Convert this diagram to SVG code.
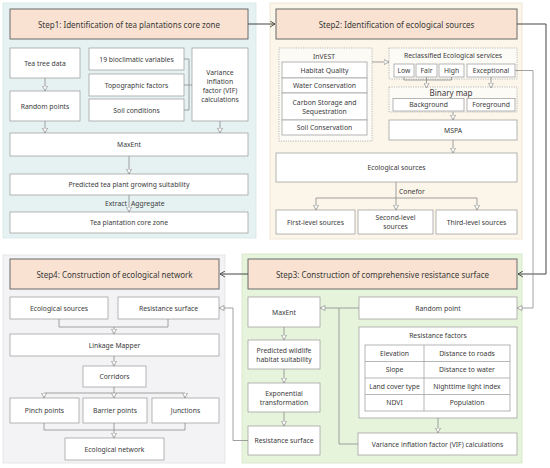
<svg xmlns="http://www.w3.org/2000/svg" width="550" height="468" viewBox="0 0 550 468">
<defs>
<style>
text{font-family:"Noto Sans","DejaVu Sans",sans-serif;fill:#3a3a3a;text-anchor:middle;dominant-baseline:central}
.h{font-size:8px}
.t{font-size:6.8px}
.box{fill:#fff;stroke:#a3a3a3;stroke-width:0.8}
.hd{fill:#f9e2d1;stroke:#6a6a6a;stroke-width:1}
.dot{fill:#fff;fill-opacity:0.6;stroke:#aaa;stroke-width:0.8;stroke-dasharray:1.2,1.2}
.c{fill:none;stroke:#8a8a8a;stroke-width:0.8}
.ca{fill:none;stroke:#8a8a8a;stroke-width:0.8;marker-end:url(#tri)}
.s{fill:none;stroke:#444;stroke-width:1;marker-end:url(#chev)}
</style>
<marker id="tri" markerUnits="userSpaceOnUse" markerWidth="6" markerHeight="6" refX="5" refY="2.5" orient="auto" viewBox="-0.5 -0.5 6 6"><path d="M0,0 L5,2.5 L0,5 z" fill="#fff" stroke="#8a8a8a" stroke-width="0.7"/></marker>
<marker id="chev" markerUnits="userSpaceOnUse" markerWidth="7" markerHeight="7" refX="5" refY="3" orient="auto" viewBox="-0.5 -0.5 7 7"><path d="M0,0 L5,3 L0,6" fill="none" stroke="#444" stroke-width="0.9"/></marker>
</defs>
<rect width="550" height="468" fill="#fff"/>
<!-- panels -->
<rect id="panel1" x="3" y="3" width="253" height="235" fill="#e6f2f2" stroke="#d6e6e6" stroke-width="0.8"/>
<rect id="panel2" x="270" y="3" width="252" height="236" fill="#fbf6e9" stroke="#ede4cf" stroke-width="0.8"/>
<rect id="panel3" x="242" y="254" width="280" height="209" fill="#e7f4dc" stroke="#d4e7c6" stroke-width="0.8"/>
<rect id="panel4" x="3" y="255" width="222" height="208" fill="#f3f3f5" stroke="#e1e1e4" stroke-width="0.8"/>

<!-- headers -->
<g id="step1"><rect class="hd" x="10" y="9" width="238" height="30"/><text class="h" x="129" y="24">Step1: Identification of tea plantations core zone</text></g>
<g id="step2"><rect class="hd" x="276" y="9" width="241" height="30"/><text class="h" x="396.5" y="24">Step2: Identification of ecological sources</text></g>
<g id="step3"><rect class="hd" x="248" y="259" width="269" height="30"/><text class="h" x="382.5" y="274">Step3: Construction of comprehensive resistance surface</text></g>
<g id="step4"><rect class="hd" x="10" y="259" width="209" height="30"/><text class="h" x="114.5" y="274">Step4: Construction of ecological network</text></g>

<!-- panel 1 nodes -->
<g id="teatree"><rect class="box" x="10" y="48" width="70" height="30"/><text class="t" x="45" y="63">Tea tree data</text></g>
<g id="randompoints"><rect class="box" x="10" y="91" width="70" height="30"/><text class="t" x="45" y="106">Random points</text></g>
<g id="bio"><rect class="box" x="89" y="48" width="95" height="22"/><text class="t" x="136.5" y="59">19 bioclimatic variables</text></g>
<g id="topo"><rect class="box" x="89" y="74" width="95" height="22"/><text class="t" x="136.5" y="85">Topographic factors</text></g>
<g id="soil"><rect class="box" x="89" y="99" width="95" height="22"/><text class="t" x="136.5" y="110">Soil conditions</text></g>
<g id="vif1"><rect class="box" x="192" y="48" width="56" height="73"/><text class="t" x="220" y="72">Variance</text><text class="t" x="220" y="81">inflation</text><text class="t" x="220" y="90">factor (VIF)</text><text class="t" x="220" y="99">calculations</text></g>
<g id="maxent1"><rect class="box" x="10" y="133" width="238" height="23"/><text class="t" x="129" y="144.5">MaxEnt</text></g>
<g id="predtea"><rect class="box" x="10" y="174" width="238" height="21"/><text class="t" x="129" y="184.5">Predicted tea plant growing suitability</text></g>
<g id="corezone"><rect class="box" x="10" y="212" width="238" height="21"/><text class="t" x="129" y="222.5">Tea plantation core zone</text></g>

<!-- panel 2 nodes -->
<g id="invest"><rect class="dot" x="279" y="48" width="93" height="93"/><text class="t" x="324" y="56">InVEST</text>
<rect class="box" x="282" y="62" width="85" height="16"/><text class="t" x="324.5" y="70">Habitat Quality</text>
<rect class="box" x="282" y="78" width="85" height="15"/><text class="t" x="324.5" y="85.5">Water Conservation</text>
<rect class="box" x="282" y="93" width="85" height="27"/><text class="t" x="324.5" y="102.5">Carbon Storage and</text><text class="t" x="324.5" y="111">Sequestration</text>
<rect class="box" x="282" y="120" width="85" height="15"/><text class="t" x="324.5" y="127.5">Soil Conservation</text></g>
<g id="reclass"><rect class="dot" x="389" y="48" width="128" height="31"/><text class="t" x="453" y="55">Reclassified Ecological services</text>
<rect class="box" x="394" y="64" width="20" height="13"/><text class="t" x="404" y="70.5">Low</text>
<rect class="box" x="416" y="64" width="21" height="13"/><text class="t" x="426.5" y="70.5">Fair</text>
<rect class="box" x="439" y="64" width="25" height="13"/><text class="t" x="451.5" y="70.5">High</text>
<rect class="box" x="467" y="64" width="48" height="13"/><text class="t" x="491" y="70.5">Exceptional</text></g>
<g id="binary"><rect class="dot" x="389" y="87" width="128" height="25"/><text class="t" x="451" y="92.5" style="font-size:8px">Binary map</text>
<rect class="box" x="393" y="98.5" width="71" height="12.5"/><text class="t" x="428.5" y="104.75">Background</text>
<rect class="box" x="467" y="98.5" width="48" height="12.5"/><text class="t" x="491" y="104.75">Foreground</text></g>
<g id="mspa"><rect class="box" x="389" y="120" width="128" height="20"/><text class="t" x="453" y="130">MSPA</text></g>
<g id="ecosrc2"><rect class="box" x="276" y="153" width="241" height="29"/><text class="t" x="396.5" y="167.5">Ecological sources</text></g>
<g id="first"><rect class="box" x="276" y="210" width="79" height="24"/><text class="t" x="315.5" y="222">First-level sources</text></g>
<g id="second"><rect class="box" x="358" y="210" width="75" height="24"/><text class="t" x="395.5" y="217.5">Second-level</text><text class="t" x="395.5" y="226.5">sources</text></g>
<g id="third"><rect class="box" x="436" y="210" width="81" height="24"/><text class="t" x="476.5" y="222">Third-level sources</text></g>

<!-- panel 3 nodes -->
<g id="maxent3"><rect class="box" x="248" y="297" width="72" height="30"/><text class="t" x="284" y="312">MaxEnt</text></g>
<g id="predwild"><rect class="box" x="248" y="340" width="72" height="29"/><text class="t" x="284" y="350">Predicted wildlife</text><text class="t" x="284" y="359">habitat suitability</text></g>
<g id="expo"><rect class="box" x="248" y="383" width="72" height="29"/><text class="t" x="284" y="393">Exponential</text><text class="t" x="284" y="402">transformation</text></g>
<g id="ressurf3"><rect class="box" x="248" y="426" width="72" height="29"/><text class="t" x="284" y="440.5">Resistance surface</text></g>
<g id="randompoint"><rect class="box" x="359" y="297" width="158" height="22"/><text class="t" x="438" y="308">Random point</text></g>
<g id="resfactors"><rect class="box" x="359" y="327" width="158" height="91"/><text class="t" x="438" y="335.5">Resistance factors</text>
<rect class="box" x="365" y="345" width="145" height="66"/>
<path d="M365,361.5H510M365,378H510M365,394.5H510M424,345V411" stroke="#a3a3a3" stroke-width="0.8" fill="none"/>
<text class="t" x="394.5" y="353.25">Elevation</text><text class="t" x="467" y="353.25">Distance to roads</text>
<text class="t" x="394.5" y="369.75">Slope</text><text class="t" x="467" y="369.75">Distance to water</text>
<text class="t" x="394.5" y="386.25">Land cover type</text><text class="t" x="467" y="386.25">Nighttime light index</text>
<text class="t" x="394.5" y="402.75">NDVI</text><text class="t" x="467" y="402.75">Population</text></g>
<g id="vif3"><rect class="box" x="358" y="433" width="159" height="22"/><text class="t" x="437.5" y="444">Variance inflation factor (VIF) calculations</text></g>

<!-- panel 4 nodes -->
<g id="ecosrc4"><rect class="box" x="10" y="297" width="98" height="22"/><text class="t" x="59" y="308">Ecological sources</text></g>
<g id="ressurf4"><rect class="box" x="118" y="297" width="101" height="22"/><text class="t" x="168.5" y="308">Resistance surface</text></g>
<g id="linkage"><rect class="box" x="10" y="334" width="209" height="22"/><text class="t" x="114.5" y="345">Linkage Mapper</text></g>
<g id="corridors"><rect class="box" x="83" y="366" width="63" height="21"/><text class="t" x="114.5" y="376.5">Corridors</text></g>
<g id="pinch"><rect class="box" x="10" y="398" width="69" height="25"/><text class="t" x="44.5" y="410.5">Pinch points</text></g>
<g id="barrier"><rect class="box" x="83" y="398" width="64" height="25"/><text class="t" x="115" y="410.5">Barrier points</text></g>
<g id="junctions"><rect class="box" x="152" y="398" width="67" height="25"/><text class="t" x="185.5" y="410.5">Junctions</text></g>
<g id="econet"><rect class="box" x="65" y="438" width="99" height="22"/><text class="t" x="114.5" y="449">Ecological network</text></g>

<!-- connectors -->
<g id="connectors">
<path class="s" d="M248,24H275"/>
<path class="s" d="M517,24H546V274H518"/>
<path class="s" d="M248,274H220"/>
<!-- panel1 -->
<path class="ca" d="M45,78V91"/>
<path class="ca" d="M45,121V133"/>
<path class="ca" d="M220,121V133"/>
<path class="c" d="M184,59H189V110H184M184,85H192"/>
<path class="ca" d="M129,156V174"/>
<path class="ca" d="M129,195V212"/>
<text class="t" x="127" y="203.5" style="text-anchor:end">Extract</text>
<text class="t" x="131" y="203.5" style="text-anchor:start">Aggregate</text>
<!-- panel2 -->
<path class="ca" d="M372,62H389"/>
<path class="c" d="M404,77V80H451.5V77"/>
<path class="ca" d="M426.5,77V88"/>
<path class="ca" d="M491,77V88"/>
<path class="ca" d="M515,70.5H533V308H517"/>
<path class="ca" d="M453,112V120"/>
<path class="ca" d="M453,140V153"/>
<path class="ca" d="M396,182V210"/>
<path class="c" d="M316,198H477"/>
<path class="ca" d="M316,198V210"/>
<path class="ca" d="M477,198V210"/>
<text class="t" x="399" y="191.5" style="text-anchor:start">Conefor</text>
<!-- panel3 -->
<path class="ca" d="M359,308H320"/>
<path class="c" d="M358,444H339V308"/>
<path class="ca" d="M284,327V340"/>
<path class="ca" d="M284,369V383"/>
<path class="ca" d="M284,412V426"/>
<path class="ca" d="M438,418V433"/>
<path class="ca" d="M248,440.5H233V308H219"/>
<!-- panel4 -->
<path class="c" d="M59,319V327H168V319"/>
<path class="ca" d="M114,327V334"/>
<path class="ca" d="M114,356V366"/>
<path class="c" d="M114,387V393M44,393H185"/>
<path class="ca" d="M44,393V398"/>
<path class="ca" d="M114,393V398"/>
<path class="ca" d="M185,393V398"/>
<path class="c" d="M44,423V430H185V423"/>
<path class="ca" d="M114,423V438"/>
</g>
</svg>
